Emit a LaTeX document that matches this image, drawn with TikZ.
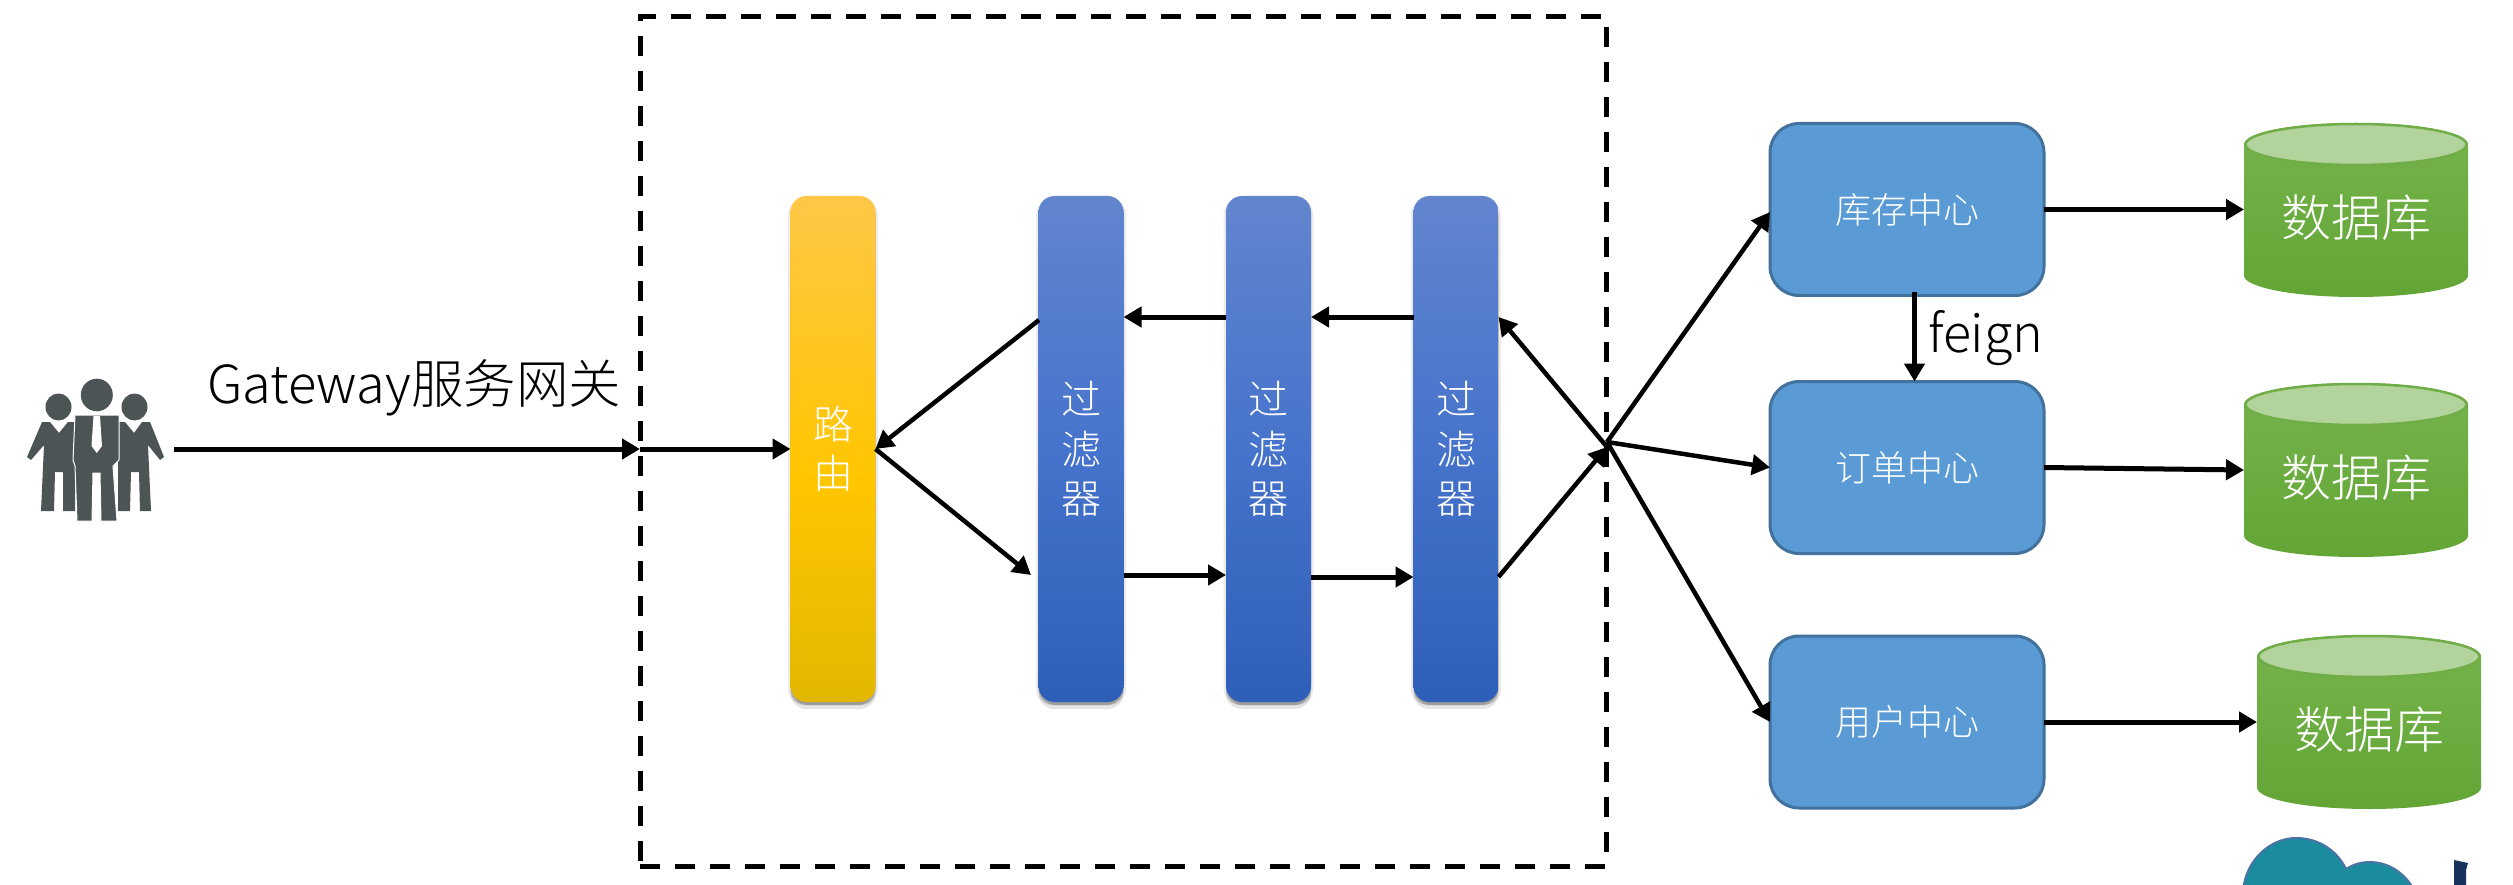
\documentclass[tikz,border=0pt]{standalone}
\usepackage{fontspec}
\setmainfont{Noto Sans CJK SC Light}
\usetikzlibrary{arrows.meta,shadows,calc}
\definecolor{peoplecol}{HTML}{4D5455}
\definecolor{svcfill}{HTML}{5B9BD5}
\definecolor{svcline}{HTML}{41719C}
\definecolor{dbline}{HTML}{70AD47}
\definecolor{dbtopcol}{HTML}{B2D49C}
\definecolor{cloudcol}{HTML}{1A8C9E}
\definecolor{cloudline}{HTML}{4A73A5}
\definecolor{navycol}{HTML}{17325C}
\definecolor{rbot}{HTML}{E3B700}
\definecolor{rmid}{HTML}{FFC600}
\definecolor{rtop}{HTML}{FFC746}
\definecolor{fbot}{HTML}{2E5FB8}
\definecolor{fmid}{HTML}{4673CC}
\definecolor{ftop}{HTML}{6285CE}
\definecolor{dbot}{HTML}{63A535}
\definecolor{dtop}{HTML}{75B44D}
\pgfdeclareverticalshading{routershade}{100bp}{color(0bp)=(rbot);color(25bp)=(rbot);color(47bp)=(rmid);color(75bp)=(rtop);color(100bp)=(rtop)}
\pgfdeclareverticalshading{filtershade}{100bp}{color(0bp)=(fbot);color(25bp)=(fbot);color(50bp)=(fmid);color(75bp)=(ftop);color(100bp)=(ftop)}
\pgfdeclareverticalshading{dbshade}{100bp}{color(0bp)=(dbot);color(25bp)=(dbot);color(75bp)=(dtop);color(100bp)=(dtop)}
\tikzset{
  softshadow/.style={
    general shadow={fill=black,opacity=.10,shadow yshift=-7pt},
    general shadow={fill=black,opacity=.08,shadow yshift=-3pt,shadow xshift=2.5pt},
    general shadow={fill=black,opacity=.08,shadow yshift=-3pt,shadow xshift=-2.5pt},
    general shadow={fill=black,opacity=.20,shadow yshift=-3pt}},
  bar/.style={rectangle,rounded corners=16pt,inner sep=0pt,outer sep=0pt,minimum width=85pt,minimum height=506pt,softshadow,text=white,align=center,font=\fontsize{40pt}{49.5pt}\selectfont},
  routerbar/.style={bar,shading=routershade},
  filterbar/.style={bar,shading=filtershade},
  service/.style={rectangle,rounded corners=29pt,draw=svcline,line width=3pt,fill=svcfill,inner sep=0pt,outer sep=0pt,minimum width=274pt,minimum height=172pt,text=white,font=\fontsize{36pt}{40pt}\selectfont},
  database/.style={rectangle,inner sep=0pt,outer sep=0pt,minimum width=224pt,minimum height=174pt,text=white,font=\fontsize{50pt}{56pt}\selectfont},
  dbcap/.style={draw=dbline,line width=2.5pt,fill=dbtopcol},
  conn/.style={line width=5pt,-{Triangle[length=18pt,width=20pt]}},
  thinconn/.style={line width=4.5pt,-{Triangle[length=18pt,width=20pt]}},
  caption/.style={inner sep=0pt,outer sep=0pt,anchor=base west,text=black},
  person/.style={fill=peoplecol},
}
\newcommand{\dbdraw}[3]{%
  \begin{scope}[shift={(#2,#3)}]
    \shade[shading=dbshade] (-112,-65.5) -- (-112,65.5) arc[start angle=180,end angle=0,x radius=112,y radius=21.5] -- (112,-65.5) arc[start angle=0,end angle=-180,x radius=112,y radius=21.5] -- cycle;
    \draw[dbcap] (0,-65.5) ellipse (110.5 and 20.5);
    \node[database] (#1) at (0,8) {数据库};
  \end{scope}
}
\begin{document}
\begin{tikzpicture}[x=1pt,y=-1pt]
\path[use as bounding box] (0,0) rectangle (2513,885);
\clip (0,0) rectangle (2513,885);
\fill[white] (0,0) rectangle (2513,885);

% dashed gateway frame
\node[draw=black,line width=5pt,dash pattern=on 20pt off 15pt,rectangle,inner sep=0pt,outer sep=0pt,minimum width=966pt,minimum height=849pt] (frame) at (1123,441.5) {};

% people icon
\fill[person] (27,457) -- (42,422) -- (50,422) -- (59,433) -- (68,422) -- (75,422) -- (75,511) -- (63,511) -- (63,472) -- (55,472) -- (54,511) -- (41,511) -- (44,445) -- (31,460) -- cycle;
\fill[person] (164,457) -- (150,422) -- (142,422) -- (134,433) -- (125,422) -- (118,422) -- (118,511) -- (130,511) -- (131,472) -- (139,472) -- (140,511) -- (151,511) -- (148,445) -- (160,460) -- cycle;
\fill[person] (58.5,407) ellipse (13 and 13.5);
\fill[person] (134.5,407) ellipse (13 and 13.5);
\filldraw[person,draw=white,line width=1pt] (75,415) -- (119,415) -- (119,460) -- (113,466) -- (117,521) -- (101,521) -- (100,473) -- (93,473) -- (92,521) -- (77,521) -- (75,466) -- (73,460) -- cycle;
\fill[person] (96.8,395) ellipse (16 and 16.3);
\fill[white] (93.5,416) -- (100,416) -- (102,446) -- (96.8,453) -- (91.5,446) -- cycle;
\coordinate (user) at (174,449);

% bars
\node[routerbar] (router) at (833,449) {\raisebox{-2pt}{路}\\\raisebox{-2pt}{由}};
\node[filterbar] (f1) at (1081,449) {过\\滤\\器};
\node[filterbar] (f2) at (1268.5,449) {过\\滤\\器};
\node[filterbar] (f3) at (1456,449) {过\\滤\\器};

% services
\node[service] (s1) at (1907,209.5) {库存中心};
\node[service] (s2) at (1907,467.5) {订单中心};
\node[service] (s3) at (1907,722) {用户中心};

% databases
\dbdraw{d1}{2356}{210}
\dbdraw{d2}{2356}{470}
\dbdraw{d3}{2369}{722}

% helper rows
\coordinate (hub) at (1607,447);
\coordinate (back) at (0,317);
\coordinate (fwdA) at (0,575);
\coordinate (fwdB) at (0,577);
\coordinate (rin) at (1031,575);
\coordinate (f1out) at (1039,320);
\coordinate (mid) at (0,449);
\coordinate (hubs) at (1607,442);
\coordinate (fe) at (1914.5,292);
\coordinate (s1in) at (1770,212);
\coordinate (d2row) at (0,470);

% connectors
\draw[conn] (user) -- (frame.west |- mid);
\draw[conn] (frame.west |- mid) -- (router.west);
\draw[thinconn] (f1out) -- (router.east);
\draw[thinconn] (router.east) -- (rin);
\draw[conn] (f2.west |- back) -- (f1.east |- back);
\draw[conn] (f3.west |- back) -- (f2.east |- back);
\draw[conn] (f1.east |- fwdA) -- (f2.west |- fwdA);
\draw[conn] (f2.east |- fwdB) -- (f3.west |- fwdB);
\draw[thinconn] (hub) -- (f3.east |- back);
\draw[thinconn] (f3.east |- fwdB) -- (hub);
\draw[thinconn] (hubs) -- (s1in);
\draw[thinconn] (hubs) -- (s2.west);
\draw[thinconn] (hubs) -- (s3.west);
\draw[conn] (s1.east) -- (d1.west |- s1.east);
\draw[conn] (s2.east) -- (d2.west |- d2row);
\draw[conn] (s3.east) -- (d3.west |- s3.east);
\draw[conn] (fe) -- (fe |- s2.north);

% captions
\node[caption,font=\fontsize{52.5pt}{56pt}\selectfont] (gw) at (207,403) {Gateway服务网关};
\node[caption,font=\fontsize{52pt}{56pt}\selectfont] (feign) at (1928,352) {feign};

% cropped cloud logo
\draw[cloudline,line width=2pt,fill=cloudcol] (2243,890) .. controls (2246,860) and (2270,838) .. (2296,838) .. controls (2320,838) and (2338,852) .. (2346,869) .. controls (2365,856) and (2398,860) .. (2414,890) -- cycle;
\fill[navycol] (2454,860) -- (2468,863) -- (2466,870) -- (2466,890) -- (2454,890) -- cycle;
\end{tikzpicture}
\end{document}
